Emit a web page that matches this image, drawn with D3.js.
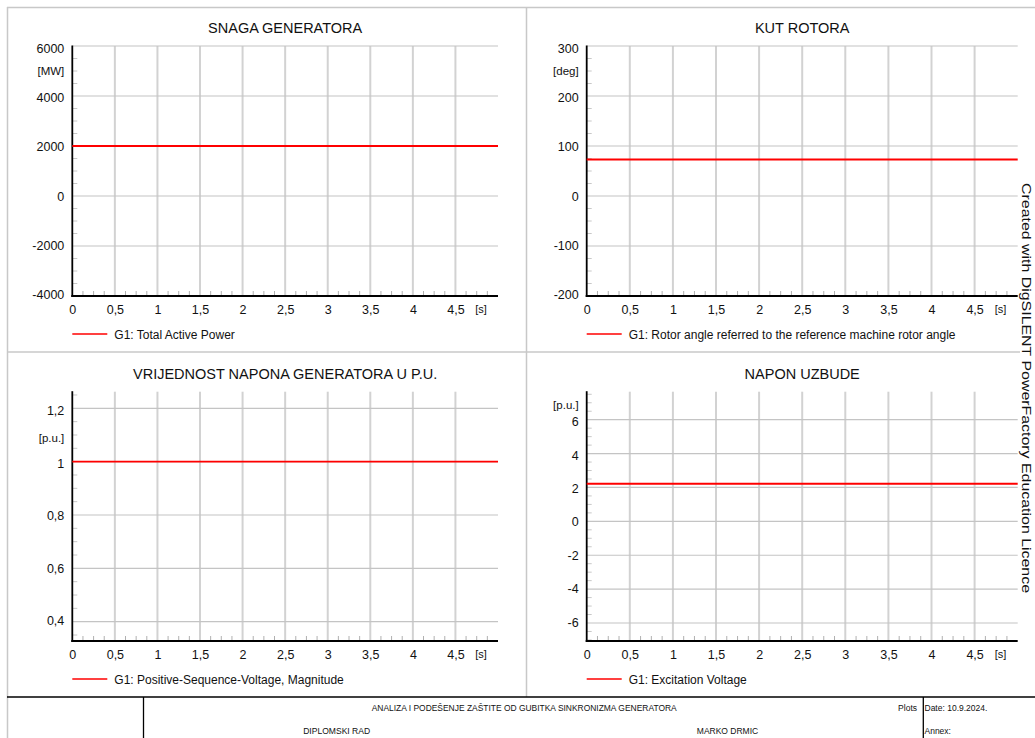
<!DOCTYPE html>
<html>
<head>
<meta charset="utf-8">
<script src="https://cdn.jsdelivr.net/npm/d3@7"></script>
<style>
  html, body { margin: 0; padding: 0; background: #fff; }
  svg { display: block; font-family: "Liberation Sans", Arial, sans-serif; }
</style>
</head>
<body>
<svg id="chart" width="1035" height="738"></svg>
<script>
// ---------- DATA ----------
const timeS = [0, 5];
const xTicks = [0, 0.5, 1, 1.5, 2, 2.5, 3, 3.5, 4, 4.5];
const titles = ["SNAGA GENERATORA", "KUT ROTORA", "VRIJEDNOST NAPONA GENERATORA U P.U.", "NAPON UZBUDE"];
const units = ["[MW]", "[deg]", "[p.u.]", "[p.u.]"];
const unitAt = [5000, 250, 1.09, 6.87];
const legendLabels = [
  "G1: Total Active Power",
  "G1: Rotor angle referred to the reference machine rotor angle",
  "G1: Positive-Sequence-Voltage, Magnitude",
  "G1: Excitation Voltage"
];
const activePower = [2000, 2000];
const rotorAngle = [73, 73];
const voltageMagnitude = [1.0, 1.0];
const excitationVoltage = [2.22, 2.22];
const yDomains = [[-4000, 6000], [-200, 300], [0.3276, 1.2623], [-7.063, 7.653]];
const yMajorTicks = [
  [-4000, -2000, 0, 2000, 4000, 6000],
  [-200, -100, 0, 100, 200, 300],
  [0.4, 0.6, 0.8, 1.0, 1.2],
  [-6, -4, -2, 0, 2, 4, 6]
];
const yMinorSteps = [500, 25, 0.05, 0.5];
const xMinorStep = 0.125;
const footerTitle = "ANALIZA I PODEŠENJE ZAŠTITE OD GUBITKA SINKRONIZMA GENERATORA";
const footerLeft = "DIPLOMSKI RAD";
const footerAuthor = "MARKO DRMIC";
const footerPlots = "Plots";
const footerDate = "Date: 10.9.2024.";
const footerAnnex = "Annex:";
const watermark = "Created with DigSILENT PowerFactory Education Licence";

const seriesList = [activePower, rotorAngle, voltageMagnitude, excitationVoltage];

// ---------- LAYOUT ----------
const svg = d3.select("#chart");
const colX0 = [72.3, 586.7], colX1 = [498, 1017.7];
const rowY0 = [46, 391.7], rowY1 = [296, 641];
const fmt = v => {
  let s = d3.format("~g")(+v.toFixed(6));
  return s.replace(".", ",").replace("\u2212", "-");
};

// frame
const frame = svg.append("g").attr("stroke", "#c8c8c8").attr("stroke-width", 1.5).attr("fill", "none");
frame.append("line").attr("x1", 7).attr("x2", 1035).attr("y1", 7.5).attr("y2", 7.5);
frame.append("line").attr("x1", 7.5).attr("x2", 7.5).attr("y1", 7).attr("y2", 738);
frame.append("line").attr("x1", 7).attr("x2", 1020).attr("y1", 352).attr("y2", 352);
frame.append("line").attr("x1", 526.5).attr("x2", 526.5).attr("y1", 7).attr("y2", 697);

seriesList.forEach((vals, i) => {
  const col = i % 2, row = Math.floor(i / 2);
  const x0 = colX0[col], x1 = colX1[col], y0 = rowY0[row], y1 = rowY1[row];
  const x = d3.scaleLinear().domain([0, 5]).range([x0, x1]);
  const y = d3.scaleLinear().domain(yDomains[i]).range([y1, y0]);
  const g = svg.append("g");

  // title
  g.append("text").attr("x", (x0 + x1) / 2).attr("y", y0 - 12.7)
    .attr("text-anchor", "middle").attr("font-size", 14.5).attr("fill", "#111")
    .text(titles[i]);

  // vertical grid
  g.append("g").selectAll("line").data(xTicks.filter(t => t > 0)).join("line")
    .attr("x1", d => x(d)).attr("x2", d => x(d)).attr("y1", y0).attr("y2", y1)
    .attr("stroke", "#d2d2d2").attr("stroke-width", 2);

  // horizontal grid
  g.append("g").selectAll("line").data(yMajorTicks[i]).join("line")
    .attr("x1", x0).attr("x2", x1).attr("y1", d => y(d)).attr("y2", d => y(d))
    .attr("stroke", "#c4c4c4").attr("stroke-width", 1.2);

  // y minor ticks
  const [d0, d1] = yDomains[i];
  const st = yMinorSteps[i];
  const minors = d3.range(Math.ceil(d0 / st - 1e-9), Math.floor(d1 / st + 1e-9) + 1).map(k => k * st)
    .filter(v => !yMajorTicks[i].some(m => Math.abs(m - v) < st / 10));
  g.append("g").selectAll("line").data(minors).join("line")
    .attr("x1", x0).attr("x2", x0 + 5).attr("y1", d => y(d)).attr("y2", d => y(d))
    .attr("stroke", "#c8c8c8").attr("stroke-width", 1);

  // x minor ticks
  const xm = d3.range(1, Math.round(5 / xMinorStep)).map(k => k * xMinorStep)
    .filter(v => Math.abs(v / 0.5 - Math.round(v / 0.5)) > 1e-6);
  g.append("g").selectAll("line").data(xm).join("line")
    .attr("x1", d => x(d)).attr("x2", d => x(d)).attr("y1", y1).attr("y2", y1 - 5)
    .attr("stroke", "#b0b0b0").attr("stroke-width", 1);

  // axes (d3 axes for tick labels)
  const yAxis = d3.axisLeft(y).tickValues(yMajorTicks[i]).tickSize(0).tickPadding(8).tickFormat(fmt);
  const ya = g.append("g").attr("transform", `translate(${x0},0)`).call(yAxis);
  ya.select(".domain").remove();
  ya.selectAll("text").attr("font-size", 12.5).attr("fill", "#111")
    .attr("font-family", "Liberation Sans, Arial, sans-serif")
    .attr("dy", function(d) { const fr = (y(d) - y0) / (y1 - y0); return (0.32 + (2.4 - 3.6 * fr) / 12.5) + "em"; });

  const xAxis = d3.axisBottom(x).tickValues(xTicks).tickSize(0).tickPadding(9).tickFormat(fmt);
  const xa = g.append("g").attr("transform", `translate(0,${y1})`).call(xAxis);
  xa.select(".domain").remove();
  xa.selectAll("text").attr("font-size", 12.5).attr("fill", "#111")
    .attr("font-family", "Liberation Sans, Arial, sans-serif");

  g.append("line").attr("x1", x0).attr("x2", x0).attr("y1", y0 - 0.5).attr("y2", y1 + 1)
    .attr("stroke", "#000").attr("stroke-width", 1.8);
  g.append("line").attr("x1", x0 - 1).attr("x2", x1).attr("y1", y1).attr("y2", y1)
    .attr("stroke", "#000").attr("stroke-width", 1.8);

  // x unit
  g.append("text").attr("x", x(4.8)).attr("y", y1 + 17.3).attr("text-anchor", "middle")
    .attr("font-size", 11).attr("fill", "#111").text("[s]");

  // y unit
  g.append("text").attr("x", x0 - 8).attr("y", y(unitAt[i])).attr("dy", "0.35em")
    .attr("text-anchor", "end").attr("font-size", 11.5).attr("fill", "#111").text(units[i]);

  // series line
  const line = d3.line().x((d, k) => x(timeS[k])).y(d => y(d));
  g.append("path").datum(vals).attr("d", line).attr("fill", "none")
    .attr("stroke", "#ff0000").attr("stroke-width", 1.8);

  // legend
  const ly = y1 + 38;
  g.append("line").attr("x1", x0).attr("x2", x0 + 35).attr("y1", ly).attr("y2", ly)
    .attr("stroke", "#ff0000").attr("stroke-width", 1.5);
  g.append("text").attr("x", x0 + 42).attr("y", ly).attr("dy", "0.38em")
    .attr("font-size", 12).attr("fill", "#111").text(legendLabels[i]);
});

// watermark
svg.append("text").attr("transform", "translate(1022,183) rotate(90)")
  .attr("font-size", 13.5).attr("fill", "#111")
  .attr("textLength", 410).attr("lengthAdjust", "spacingAndGlyphs")
  .text(watermark);

// footer
const ft = svg.append("g");
ft.append("line").attr("x1", 7).attr("x2", 1035).attr("y1", 697).attr("y2", 697).attr("stroke", "#000").attr("stroke-width", 1.5);
ft.append("line").attr("x1", 143.5).attr("x2", 143.5).attr("y1", 697).attr("y2", 738).attr("stroke", "#000").attr("stroke-width", 1.3);
ft.append("line").attr("x1", 923.3).attr("x2", 923.3).attr("y1", 697).attr("y2", 738).attr("stroke", "#000").attr("stroke-width", 1.3);
ft.append("text").attr("x", 371.7).attr("y", 710.5).attr("font-size", 8.5).attr("fill", "#111")
  .attr("textLength", 305).attr("lengthAdjust", "spacingAndGlyphs").text(footerTitle);
ft.append("text").attr("x", 336.7).attr("y", 734).attr("text-anchor", "middle").attr("font-size", 8.5).attr("fill", "#111")
  .attr("textLength", 67).attr("lengthAdjust", "spacingAndGlyphs").text(footerLeft);
ft.append("text").attr("x", 727.5).attr("y", 734).attr("text-anchor", "middle").attr("font-size", 8.5).attr("fill", "#111")
  .text(footerAuthor);
ft.append("text").attr("x", 917).attr("y", 710.5).attr("text-anchor", "end").attr("font-size", 8.5).attr("fill", "#111")
  .text(footerPlots);
ft.append("text").attr("x", 924.5).attr("y", 710.5).attr("font-size", 8.5).attr("fill", "#111")
  .text(footerDate);
ft.append("text").attr("x", 924.5).attr("y", 734).attr("font-size", 8.5).attr("fill", "#111")
  .text(footerAnnex);
</script>
</body>
</html>
